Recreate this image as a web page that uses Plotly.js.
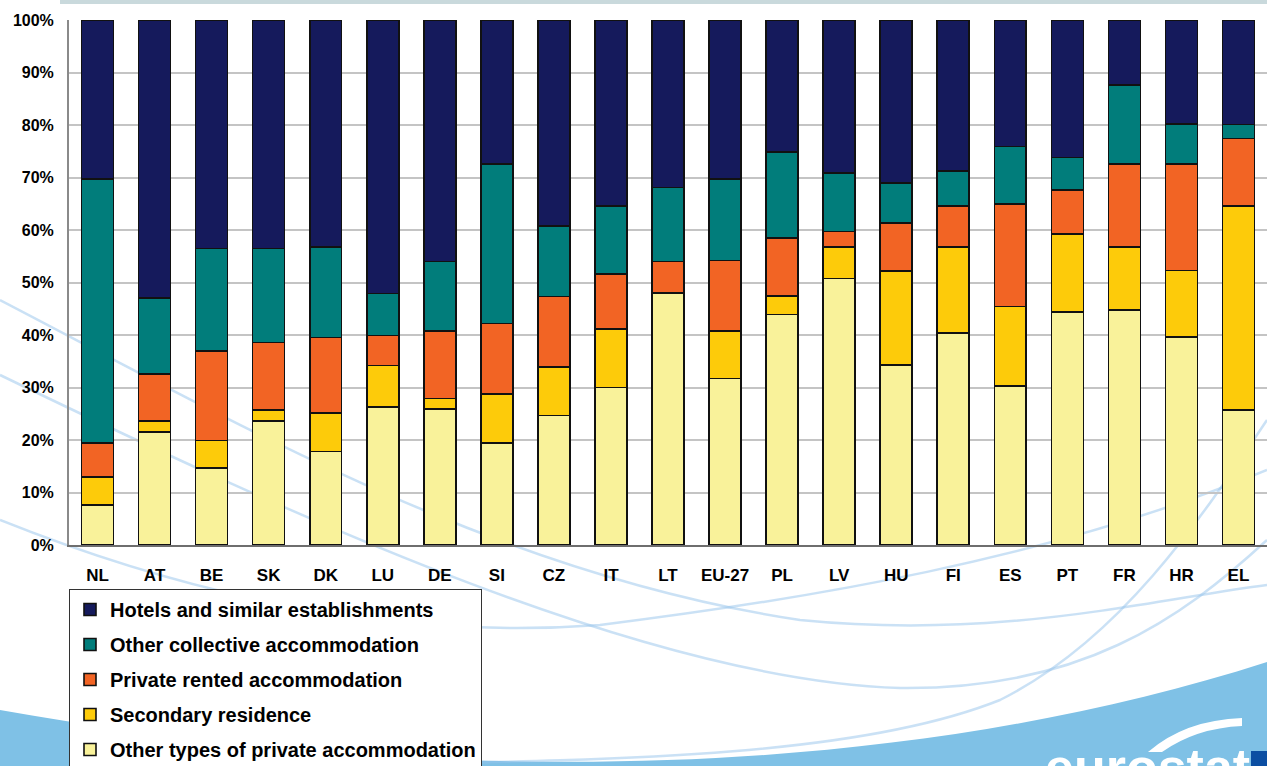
<!DOCTYPE html>
<html>
<head>
<meta charset="utf-8">
<script src="https://cdn.plot.ly/plotly-3.0.1.min.js"></script>
<style>
  html, body { margin: 0; padding: 0; background: #ffffff; }
  #chart { width: 1267px; height: 766px; }
</style>
</head>
<body>
<div id="chart"></div>
<script>
// ---- Data (shares in %) ----
var categories = ['NL','AT','BE','SK','DK','LU','DE','SI','CZ','IT','LT','EU-27','PL','LV','HU','FI','ES','PT','FR','HR','EL'];
var otherTypes      = [7.6,21.5,14.7,23.6,17.8,26.3,25.9,19.4,24.7,30.0,48.0,31.7,43.9,50.8,34.3,40.4,30.3,44.4,44.8,39.6,25.7];
var secondary       = [5.4,2.1,5.2,2.1,7.4,7.9,2.0,9.4,9.2,11.1,0,9.1,3.5,6.0,17.9,16.4,15.1,14.8,12.0,12.7,38.9];
var privateRented   = [6.4,9.0,17.1,12.9,14.3,5.7,12.9,13.4,13.4,10.5,6.0,13.4,11.1,2.9,9.1,7.8,19.6,8.4,15.8,20.3,12.8];
var otherCollective = [50.3,14.4,19.5,17.9,17.3,8.0,13.2,30.4,13.5,13.0,14.1,15.5,16.4,11.2,7.7,6.6,10.9,6.2,15.0,7.6,2.7];
var hotels          = [30.3,53.0,43.5,43.5,43.2,52.1,46.0,27.4,39.2,35.4,31.9,30.3,25.1,29.1,31.0,28.8,24.1,26.2,12.4,19.8,19.9];
var yTicks = [0,10,20,30,40,50,60,70,80,90,100];

var seriesNames  = ['Other types of private accommodation','Secondary residence','Private rented accommodation','Other collective accommodation','Hotels and similar establishments'];
var seriesValues = [otherTypes, secondary, privateRented, otherCollective, hotels];
var seriesColors = ['#f9f29a','#fdcb0a','#f26424','#017d7b','#151a5c'];

var traces = seriesNames.map(function(n, i){
  return {
    type: 'bar', name: n, x: categories, y: seriesValues[i],
    legendgroup: 'g' + i,
    legendrank: 100 - i,
    marker: { color: seriesColors[i], line: { color: '#111111', width: 1.6 } },
    hoverinfo: 'skip'
  };
});

// ---- decorative background (pixel -> paper helpers) ----
var L = 69, T = 20, W = 1198, H = 525;
function P(x, y){ return ((x - L) / W).toFixed(5) + ',' + ((T + H - y) / H).toFixed(5); }
function curve(pts){
  var s = 'M' + P(pts[0], pts[1]);
  for (var i = 2; i < pts.length; i += 6) {
    s += ' C' + P(pts[i], pts[i+1]) + ' ' + P(pts[i+2], pts[i+3]) + ' ' + P(pts[i+4], pts[i+5]);
  }
  return s;
}
var lineColor = 'rgba(150,195,235,0.5)';
var shapes = [
  { type: 'rect', xref: 'paper', yref: 'paper', layer: 'below',
    x0: (60 - L) / W, x1: (1267 - L) / W, y0: (T + H - 0) / H, y1: (T + H - 4) / H,
    fillcolor: '#c9d9dc', line: { width: 0 } },
  { type: 'path', xref: 'paper', yref: 'paper', layer: 'below',
    path: curve([0,710, 450,790, 900,780, 1267,662]) + ' L' + P(1267,766) + ' L' + P(0,766) + ' Z',
    fillcolor: '#7fc1e6', line: { width: 0 } },
  { type: 'path', xref: 'paper', yref: 'paper', layer: 'below',
    path: curve([0,300, 250,430, 500,575, 800,620, 1000,640, 1150,600, 1267,585]),
    line: { color: lineColor, width: 2.5 } },
  { type: 'path', xref: 'paper', yref: 'paper', layer: 'below',
    path: curve([0,375, 300,520, 650,680, 900,688, 1080,690, 1180,620, 1267,540]),
    line: { color: lineColor, width: 2.5 } },
  { type: 'path', xref: 'paper', yref: 'paper', layer: 'below',
    path: curve([0,520, 200,600, 400,640, 600,625, 800,600, 1050,560, 1267,470]),
    line: { color: lineColor, width: 2.5 } },
  { type: 'path', xref: 'paper', yref: 'paper', layer: 'below',
    path: curve([300,766, 600,760, 850,760, 1000,700, 1120,640, 1200,520, 1267,420]),
    line: { color: lineColor, width: 2.5 } },
  { type: 'path', xref: 'paper', yref: 'paper', layer: 'below',
    path: 'M' + P(1148,752) + ' Q' + P(1185,720) + ' ' + P(1242,718) + ' L' + P(1242,726) + ' Q' + P(1196,728) + ' ' + P(1162,752) + ' Z',
    fillcolor: '#ffffff', line: { width: 0 } },
  { type: 'rect', xref: 'paper', yref: 'paper', layer: 'above',
    x0: (1251 - L) / W, x1: (1270 - L) / W, y0: (T + H - 751) / H, y1: (T + H - 770) / H,
    fillcolor: '#0b4ea2', line: { width: 0 } }
];

var layout = {
  width: 1267, height: 766,
  margin: { l: L, r: 0, t: T, b: 766 - T - H, pad: 0, autoexpand: false },
  paper_bgcolor: '#ffffff',
  plot_bgcolor: 'rgba(0,0,0,0)',
  barmode: 'stack',
  bargap: 0.44,
  showlegend: true,
  legend: {
    x: 0, y: (T + H - 589) / H, xanchor: 'left', yanchor: 'top',
    bgcolor: '#ffffff', bordercolor: '#333333', borderwidth: 1,
    traceorder: 'grouped', tracegroupgap: 6,
    entrywidth: 385, entrywidthmode: 'pixels',
    font: { family: 'Liberation Sans, Arial, sans-serif', size: 20, color: '#000000', weight: 'bold' }
  },
  xaxis: {
    type: 'category', range: [-0.5, categories.length - 0.5],
    showgrid: false, zeroline: false,
    showline: true, linecolor: '#6e6e6e', linewidth: 2,
    ticks: '', ticklabelstandoff: 14,
    tickfont: { family: 'Liberation Sans, Arial, sans-serif', size: 17, color: '#000000', weight: 'bold' },
    fixedrange: true
  },
  yaxis: {
    range: [0, 100], tickvals: yTicks, ticktext: yTicks.map(function(v){ return v + '%'; }),
    showgrid: true, gridcolor: '#c4c4c4', gridwidth: 2,
    zeroline: false, showline: true, linecolor: '#8a8a8a', linewidth: 2,
    ticks: '', ticklabelstandoff: 10,
    tickfont: { family: 'Liberation Sans, Arial, sans-serif', size: 16, color: '#000000', weight: 'bold' },
    fixedrange: true
  },
  shapes: shapes,
  annotations: [{
    xref: 'paper', yref: 'paper', x: (1043 - L) / W, y: (T + H - 736) / H,
    xanchor: 'left', yanchor: 'top', showarrow: false, text: 'eurostat',
    font: { family: 'Liberation Sans, Arial, sans-serif', size: 52, color: '#ffffff', weight: 'bold' }
  }]
};

Plotly.newPlot('chart', traces, layout, { displayModeBar: false, staticPlot: true });
</script>
</body>
</html>
